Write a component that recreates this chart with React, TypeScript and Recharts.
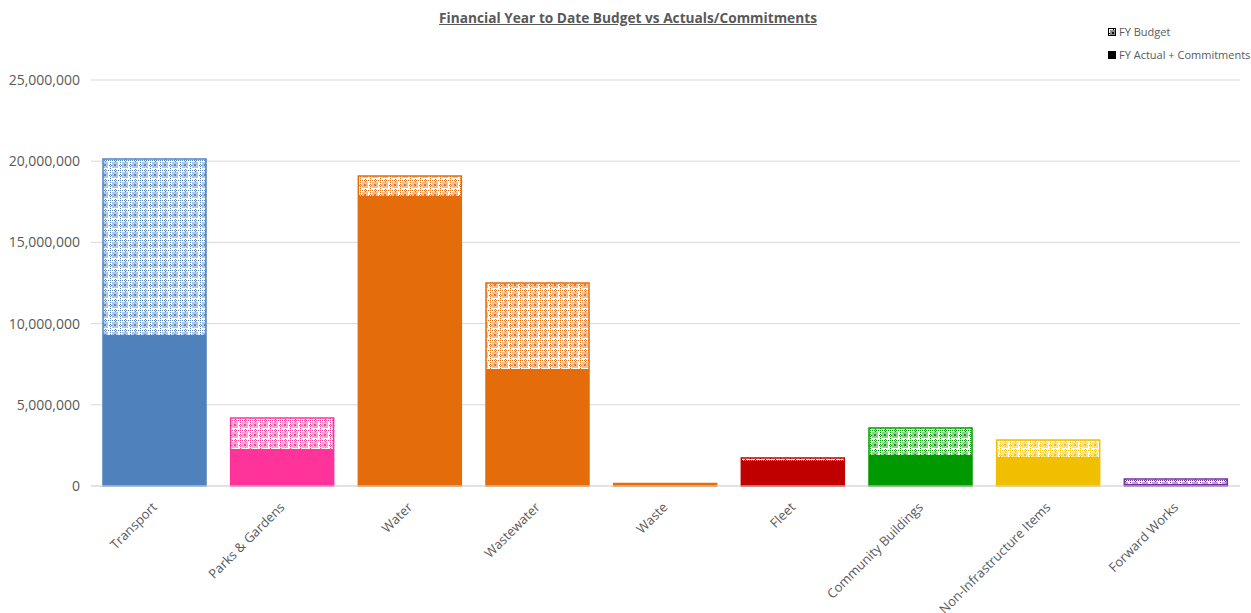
import { Bar, BarChart, CartesianGrid, Cell, XAxis, YAxis } from 'recharts';

const categories = [
  'Transport',
  'Parks & Gardens',
  'Water',
  'Wastewater',
  'Waste',
  'Fleet',
  'Community Buildings',
  'Non-Infrastructure Items',
  'Forward Works',
];

const fyBudget = [20140000, 4190000, 19090000, 12500000, 150000, 1720000, 3570000, 2830000, 430000];
const fyActual = [9300000, 2280000, 17860000, 7200000, 120000, 1570000, 1910000, 1790000, 120000];

const barColors = ['#4F81BD', '#FF3399', '#E46C0A', '#E46C0A', '#E46C0A', '#C00000', '#009900', '#F0C000', '#7030A0'];

const yTicks = [0, 5000000, 10000000, 15000000, 20000000, 25000000];

const data = categories.map((name, i) => ({
  name,
  budget: fyBudget[i],
  actual: fyActual[i],
}));

const FONT = '"Open Sans", "Noto Sans", sans-serif';
const TEXT = '#595959';

function patternTile(c: string) {
  return (
    <>
      <rect width={10} height={10} fill="#ffffff" />
      <rect x={2} y={2} width={6} height={6} fill={c} opacity={0.45} />
      <rect x={0} y={0} width={1} height={1} fill={c} />
      <rect x={2} y={0} width={1} height={1} fill={c} />
      <rect x={4} y={0} width={1} height={1} fill={c} />
      <rect x={6} y={0} width={1} height={1} fill={c} />
      <rect x={8} y={0} width={1} height={1} fill={c} />
      <rect x={0} y={2} width={1} height={1} fill={c} />
      <rect x={0} y={4} width={1} height={1} fill={c} />
      <rect x={0} y={6} width={1} height={1} fill={c} />
      <rect x={0} y={8} width={1} height={1} fill={c} />
      <rect x={5} y={1} width={1} height={1} fill={c} />
      <rect x={1} y={5} width={1} height={1} fill={c} />
      <rect x={5} y={9} width={1} height={1} fill={c} />
      <rect x={9} y={5} width={1} height={1} fill={c} />
      <rect x={4} y={4} width={2} height={2} fill={c} opacity={0.85} />
    </>
  );
}

function PatternDefs() {
  return (
    <defs>
      {barColors.map((c, i) => (
        <pattern key={i} id={`pat-${i}`} width={10} height={10} patternUnits="userSpaceOnUse">
          {patternTile(c)}
        </pattern>
      ))}
    </defs>
  );
}

function AngledTick(props: any) {
  const { x, y, payload } = props;
  const tx = x + 3;
  const ty = y + 14;
  return (
    <text
      x={tx}
      y={ty}
      transform={`rotate(-45, ${tx}, ${ty})`}
      textAnchor="end"
      fontFamily={FONT}
      fontSize={13}
      fill={TEXT}
    >
      {payload.value}
    </text>
  );
}

function LegendBox() {
  const items = ['FY Budget', 'FY Actual + Commitments'];
  return (
    <div
      style={{
        position: 'absolute',
        top: 20,
        left: 1108,
        fontFamily: FONT,
        fontSize: 11,
        color: TEXT,
        whiteSpace: 'nowrap',
      }}
    >
      {items.map((label, i) => (
        <div key={label} style={{ display: 'flex', alignItems: 'center', height: 23 }}>
          <svg width={8} height={8} style={{ marginRight: 3 }}>
            <defs>
              <pattern id="pat-legend" width={10} height={10} patternUnits="userSpaceOnUse">
                {patternTile('#000000')}
              </pattern>
            </defs>
            <rect
              x={0.5}
              y={0.5}
              width={7}
              height={7}
              fill={i === 0 ? 'url(#pat-legend)' : '#000000'}
              stroke="#000"
              strokeWidth={1}
            />
          </svg>
          {label}
        </div>
      ))}
    </div>
  );
}

export default function App() {
  return (
    <div style={{ position: 'absolute', left: 0, top: 0, width: 1251, height: 613, background: '#fff' }}>
      <div
        style={{
          position: 'absolute',
          top: 8,
          left: 0,
          width: 1256,
          textAlign: 'center',
          fontFamily: FONT,
          fontSize: 13.7,
          fontWeight: 700,
          color: TEXT,
          textDecoration: 'underline',
        }}
      >
        Financial Year to Date Budget vs Actuals/Commitments
      </div>
      <LegendBox />
      <BarChart
        width={1251}
        height={613}
        data={data}
        margin={{ top: 80, right: 11, bottom: 0, left: 0 }}
        barSize={103}
        barGap={-103}
      >
        <PatternDefs />
        <CartesianGrid vertical={false} stroke="#D9D9D9" />
        <XAxis
          dataKey="name"
          interval={0}
          tick={<AngledTick />}
          tickLine={false}
          axisLine={{ stroke: '#D9D9D9' }}
          height={127}
        />
        <YAxis
          width={91}
          domain={[0, 25000000]}
          ticks={yTicks}
          tickFormatter={(v: number) => v.toLocaleString('en-US')}
          tick={{ fontFamily: FONT, fontSize: 14, fill: TEXT }}
          tickLine={false}
          axisLine={false}
          tickSize={0}
          tickMargin={11}
        />
        <Bar dataKey="budget" name="FY Budget" isAnimationActive={false}>
          {data.map((d, i) => (
            <Cell key={d.name} fill={`url(#pat-${i})`} stroke={barColors[i]} strokeWidth={1.5} />
          ))}
        </Bar>
        <Bar dataKey="actual" name="FY Actual + Commitments" isAnimationActive={false}>
          {data.map((d, i) => (
            <Cell key={d.name} fill={barColors[i]} />
          ))}
        </Bar>
      </BarChart>
    </div>
  );
}
